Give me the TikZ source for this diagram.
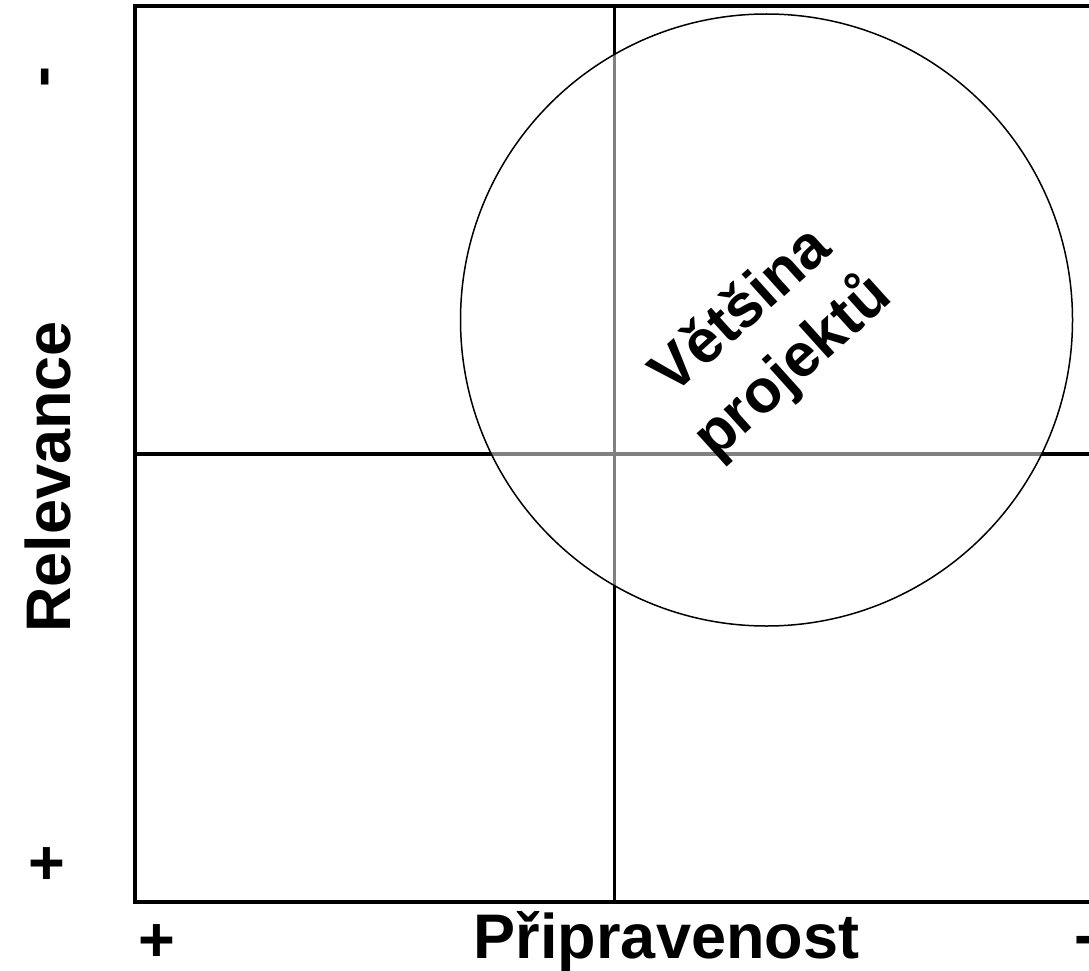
\documentclass[tikz,border=0pt]{standalone}
\usepackage{fontspec}
\setmainfont{Liberation Sans}
\begin{document}
\begin{tikzpicture}[x=1pt,y=-1pt,
  lbl/.style={font=\fontsize{63}{70}\selectfont\bfseries, inner sep=0pt},
  frameline/.style={line width=4pt},
  axisline/.style={line width=3.5pt},
  ring/.style={circle, draw, line width=1.5pt, fill=white, fill opacity=0.5, minimum size=612pt, inner sep=0pt}]
\useasboundingbox (0,0) rectangle (1089,971);
\coordinate (vt) at (614.5,6.3);
\coordinate (vb) at (614.5,902);
\coordinate (hl) at (135,454);
\coordinate (hr) at (1100,454);
\draw[frameline] (135,6.3) rectangle (1100,902);
\draw[axisline] (vt) -- (vb);
\draw[axisline] (hl) -- (hr);
\node[ring] (c) at (766.5,320) {};
\node[font=\fontsize{61}{76}\selectfont\bfseries, inner sep=0pt, align=center, rotate=42] (most) at (768,340) {Většina\\projektů};
\node[lbl, rotate=90] (rel) at (48,477) {Relevance};
\node[lbl] (prip) at (666.5,942) {Připravenost};
\node[lbl, rotate=90] (ymin) at (51.5,77) {-};
\node[lbl] (yplus) at (46.5,866) {+};
\node[lbl] (xplus) at (157,943) {+};
\node[lbl] (xmin) at (1085,946.5) {-};
\end{tikzpicture}
\end{document}
